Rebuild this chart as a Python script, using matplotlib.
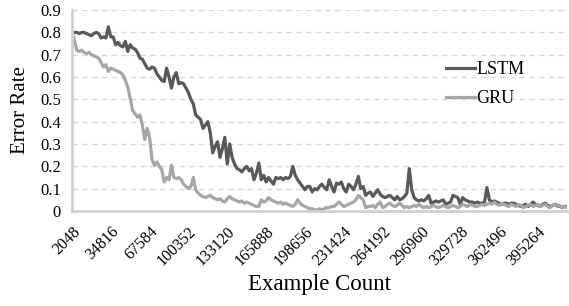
import numpy as np
import matplotlib
matplotlib.use("Agg")
import matplotlib.pyplot as plt

plt.rcParams['font.family'] = ['Liberation Serif', 'DejaVu Serif']

# example counts: 2048 steps
example_count = [2048 * (i + 1) for i in range(205)]

lstm = [0.80, 0.80, 0.80, 0.795, 0.80, 0.80, 0.795, 0.79, 0.785, 0.795, 0.80, 0.795,
        0.775, 0.78, 0.775, 0.825, 0.78, 0.78, 0.745, 0.755, 0.74, 0.735, 0.76, 0.715,
        0.745, 0.73, 0.725, 0.71, 0.685, 0.68, 0.66, 0.64, 0.635, 0.645, 0.64, 0.615,
        0.60, 0.585, 0.58, 0.64, 0.60, 0.55, 0.60, 0.62, 0.57, 0.575, 0.57, 0.55,
        0.53, 0.50, 0.48, 0.43, 0.42, 0.41, 0.37, 0.385, 0.40, 0.35, 0.26, 0.29,
        0.31, 0.24, 0.28, 0.33, 0.21, 0.30, 0.24, 0.21, 0.19, 0.185, 0.175, 0.19,
        0.20, 0.18, 0.19, 0.14, 0.17, 0.215, 0.14, 0.16, 0.13, 0.15, 0.135, 0.12,
        0.15, 0.145, 0.15, 0.14, 0.15, 0.145, 0.155, 0.20, 0.16, 0.14, 0.125, 0.11,
        0.095, 0.11, 0.11, 0.085, 0.10, 0.095, 0.11, 0.12, 0.105, 0.095, 0.14, 0.11,
        0.085, 0.125, 0.12, 0.13, 0.10, 0.085, 0.12, 0.11, 0.095, 0.12, 0.155, 0.10,
        0.11, 0.07, 0.08, 0.085, 0.065, 0.08, 0.095, 0.075, 0.065, 0.06, 0.065, 0.07,
        0.06, 0.05, 0.065, 0.05, 0.055, 0.065, 0.08, 0.19, 0.095, 0.06, 0.05, 0.045,
        0.05, 0.045, 0.055, 0.07, 0.035, 0.04, 0.045, 0.04, 0.045, 0.05, 0.03, 0.035,
        0.04, 0.07, 0.065, 0.06, 0.03, 0.06, 0.05, 0.045, 0.04, 0.04, 0.035, 0.04,
        0.035, 0.035, 0.04, 0.105, 0.05, 0.04, 0.045, 0.04, 0.035, 0.03, 0.035, 0.035,
        0.03, 0.035, 0.035, 0.03, 0.025, 0.02, 0.025, 0.03, 0.02, 0.03, 0.04, 0.03,
        0.025, 0.02, 0.03, 0.035, 0.025, 0.02, 0.025, 0.03, 0.025, 0.02, 0.015, 0.02,
        0.02]

gru = [0.80, 0.765, 0.72, 0.715, 0.72, 0.71, 0.705, 0.71, 0.70, 0.695, 0.69, 0.685,
       0.665, 0.645, 0.655, 0.625, 0.64, 0.635, 0.63, 0.625, 0.62, 0.61, 0.585, 0.555,
       0.505, 0.45, 0.435, 0.42, 0.43, 0.385, 0.32, 0.37, 0.33, 0.23, 0.205, 0.22,
       0.20, 0.185, 0.13, 0.15, 0.14, 0.205, 0.15, 0.145, 0.15, 0.14, 0.12, 0.11,
       0.10, 0.11, 0.15, 0.095, 0.08, 0.07, 0.065, 0.06, 0.065, 0.07, 0.06, 0.055,
       0.05, 0.055, 0.045, 0.04, 0.055, 0.065, 0.055, 0.05, 0.045, 0.04, 0.045, 0.035,
       0.04, 0.035, 0.03, 0.025, 0.02, 0.02, 0.05, 0.04, 0.045, 0.06, 0.05, 0.045,
       0.04, 0.035, 0.04, 0.03, 0.035, 0.03, 0.025, 0.02, 0.03, 0.05, 0.035, 0.025,
       0.02, 0.015, 0.01, 0.01, 0.005, 0.005, 0.01, 0.005, 0.01, 0.015, 0.015, 0.02,
       0.02, 0.03, 0.04, 0.03, 0.02, 0.025, 0.03, 0.035, 0.04, 0.05, 0.07, 0.06,
       0.05, 0.015, 0.02, 0.02, 0.025, 0.015, 0.03, 0.04, 0.015, 0.02, 0.03, 0.035,
       0.025, 0.02, 0.025, 0.035, 0.025, 0.015, 0.02, 0.015, 0.02, 0.025, 0.02, 0.03,
       0.02, 0.015, 0.02, 0.015, 0.02, 0.025, 0.02, 0.015, 0.02, 0.025, 0.02, 0.015,
       0.02, 0.025, 0.02, 0.015, 0.02, 0.03, 0.025, 0.02, 0.03, 0.025, 0.02, 0.02,
       0.025, 0.03, 0.025, 0.03, 0.035, 0.03, 0.04, 0.03, 0.025, 0.035, 0.03, 0.025,
       0.02, 0.03, 0.025, 0.02, 0.03, 0.025, 0.015, 0.02, 0.025, 0.03, 0.02, 0.025,
       0.03, 0.02, 0.025, 0.03, 0.02, 0.015, 0.025, 0.03, 0.02, 0.025, 0.015, 0.02,
       0.015]

label_every = 16
yticks = [0, 0.1, 0.2, 0.3, 0.4, 0.5, 0.6, 0.7, 0.8, 0.9]
ytick_labels = ["0", "0.1", "0.2", "0.3", "0.4", "0.5", "0.6", "0.7", "0.8", "0.9"]

fig = plt.figure(figsize=(5.69, 3.06), dpi=100)
ax = fig.add_axes([0.1265, 0.3105, 0.870, 0.6565])

x = np.arange(len(example_count))
ax.plot(x, lstm, color="#595959", lw=2.3, label="LSTM", solid_joinstyle="round")
ax.plot(x, gru, color="#a6a6a6", lw=2.3, label="GRU", solid_joinstyle="round")

ax.set_xlim(0, len(example_count) - 1)
ax.set_ylim(0, 0.9)
ax.set_yticks(yticks)
ax.set_yticklabels(ytick_labels, fontsize=12)
tick_pos = x[::label_every]
ax.set_xticks(tick_pos)
ax.set_xticklabels([str(example_count[i]) for i in tick_pos], rotation=45,
                   ha="right", rotation_mode="anchor", fontsize=11.5)
ax.tick_params(axis="both", length=0)
ax.tick_params(axis="x", pad=9)
ax.tick_params(axis="y", pad=8)

ax.grid(axis="y", color="#d9d9d9", ls=(0, (4, 3)), lw=1)
ax.set_axisbelow(True)
for s in ["top", "right"]:
    ax.spines[s].set_visible(False)
for s in ["left", "bottom"]:
    ax.spines[s].set_color("#d0d0d0")
    ax.spines[s].set_linewidth(2)

ax.set_xlabel("Example Count", fontsize=16.5, labelpad=4)
ax.set_ylabel("Error Rate", fontsize=15, labelpad=7)

ax.legend(loc="center left", bbox_to_anchor=(0.730, 0.632), frameon=False,
          fontsize=13, handlelength=1.6, handletextpad=0.1, labelspacing=0.65,
          borderpad=0.2)

fig.savefig("out.png", dpi=100)
